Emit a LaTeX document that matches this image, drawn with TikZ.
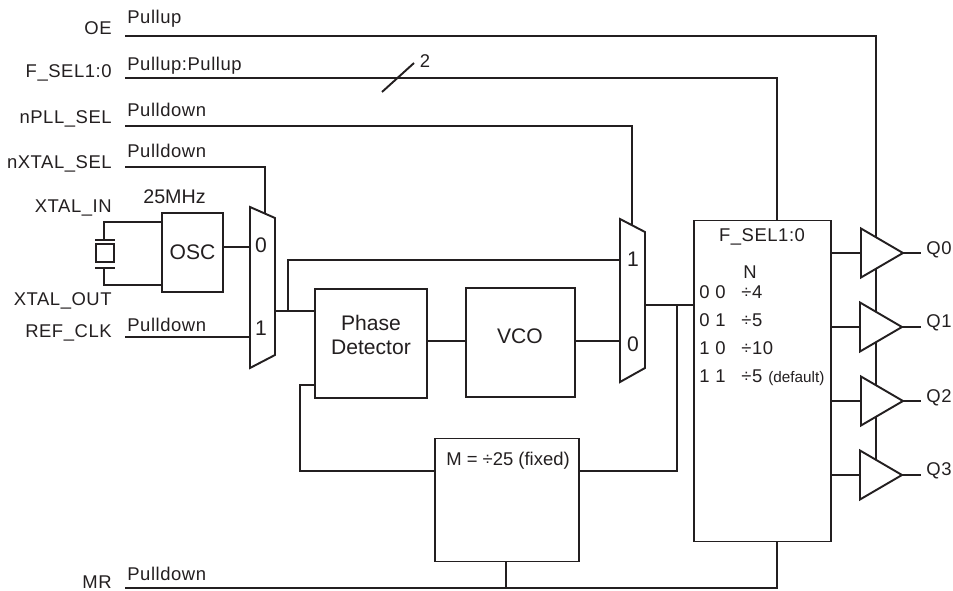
\documentclass[tikz,border=0pt]{standalone}
\usepackage{fontspec}
\setmainfont{Liberation Sans}
\newfontfamily\sigfont[LetterSpace=3]{Liberation Sans}
\usepackage{tikz}
\usetikzlibrary{shapes.geometric}
\definecolor{inkc}{HTML}{231F20}
\tikzset{
  wire/.style={draw=inkc, line width=1.1pt},
  block/.style={draw=inkc, line width=1.1pt, rectangle, fill=white},
  buf/.style={draw=inkc, line width=1.1pt, fill=white, isosceles triangle, isosceles triangle stretches, minimum width=0.98cm, minimum height=0.84cm, outer sep=0pt, anchor=lower side},
  sig/.style={text=inkc, font=\fontsize{10.5}{12}\sigfont},
  big/.style={text=inkc, font=\fontsize{12}{14}\selectfont},
  small/.style={text=inkc, font=\fontsize{8.7}{10}\selectfont}
}

\begin{document}
\begin{tikzpicture}[x=0.02cm, y=0.02cm]
\tikzstyle{every node}+=[inner sep=0pt]
\useasboundingbox (0,0) rectangle (953,-591);
% pin names
\node (oename) [sig, anchor=base east] at (112,-35) {OE};
\node (fselname) [sig, anchor=base east] at (112,-78) {F\_SEL1:0};
\node (npllname) [sig, anchor=base east] at (112,-124) {nPLL\_SEL};
\node (nxtalname) [sig, anchor=base east] at (112,-169) {nXTAL\_SEL};
\node (xinname) [sig, anchor=base east] at (112,-213) {XTAL\_IN};
\node (xoutname) [sig, anchor=base east] at (112,-305) {XTAL\_OUT};
\node (refname) [sig, anchor=base east] at (112,-337) {REF\_CLK};
\node (mrname) [sig, anchor=base east] at (112,-588.5) {MR};
\node (oepull) [sig, anchor=base west] at (127,-24) {Pullup};
\node (fselpull) [sig, anchor=base west] at (127,-71) {Pullup:Pullup};
\node (npllpull) [sig, anchor=base west] at (127,-117) {Pulldown};
\node (nxtalpull) [sig, anchor=base west] at (127,-158) {Pulldown};
\node (refpull) [sig, anchor=base west] at (127,-331) {Pulldown};
\node (mrpull) [sig, anchor=base west] at (127,-580) {Pulldown};
% free ends of the input lines
\coordinate (oestart) at (125,-36);
\coordinate (fselstart) at (125,-78);
\coordinate (npllstart) at (125,-126);
\coordinate (nxtalstart) at (125,-167);
\coordinate (refstart) at (125,-337);
\coordinate (mrstart) at (125,-588);
% blocks
\node (osc) [block, big, minimum width=1.22cm, minimum height=1.58cm] at (192.5,-252.5) {OSC};
\node (pd) [block, minimum width=2.24cm, minimum height=2.18cm] at (371,-343.5) {};
\node (vco) [block, minimum width=2.18cm, minimum height=2.18cm] at (520.5,-342.5) {};
\node (mdiv) [block, minimum width=2.88cm, minimum height=2.46cm] at (507,-500) {};
\node (ndiv) [block, minimum width=2.74cm, minimum height=6.42cm] at (762.5,-381) {};
\node (pdname) [big, align=center] at (371,-335) {Phase\\Detector};
\node (vconame) [big] at (520,-336) {VCO};
\node (mname) [sig, font=\fontsize{10.5}{12}\selectfont] at (508,-461) {M = ÷25 (fixed)};
\node (osclabel) [sig, font=\fontsize{11.2}{13}\selectfont, anchor=base] at (174.5,-204) {25MHz};
% divider table
\node (fseltitle) [sig] at (762,-237) {F\_SEL1:0};
\node (nhead) [sig] at (750,-272) {N};
\node (rowa) [sig, anchor=base west] at (699,-298) {0 0};
\node (rowb) [sig, anchor=base west] at (699,-326) {0 1};
\node (rowc) [sig, anchor=base west] at (699,-354) {1 0};
\node (rowd) [sig, anchor=base west] at (699,-382) {1 1};
\node (vala) [sig, anchor=base west] at (741,-298) {÷4};
\node (valb) [sig, anchor=base west] at (741,-326) {÷5};
\node (valc) [sig, anchor=base west] at (741,-354) {÷10};
\node (vald) [sig, anchor=base west] at (741,-382) {÷5};
\node (dflt) [small, anchor=base west] at (768,-382) {(default)};
% crystal
\node (xtal) [block, minimum width=0.36cm, minimum height=0.36cm] at (105,-253) {};
\coordinate (plateal) at (95,-240);
\coordinate (platear) at (115,-240);
\coordinate (platebl) at (95,-268);
\coordinate (platebr) at (115,-268);
\coordinate (platea) at (104,-240);
\coordinate (plateb) at (104,-268);
\coordinate (oscina) at (162,-222);
\coordinate (oscinb) at (162,-285);
\draw [wire] (plateal) -- (platear);
\draw [wire] (platebl) -- (platebr);
\draw [wire] (platea) |- (oscina);
\draw [wire] (plateb) |- (oscinb);
% first mux
\coordinate (mxatl) at (250,-207);
\coordinate (mxatr) at (275,-218);
\coordinate (mxabr) at (275,-355);
\coordinate (mxabl) at (250,-368);
\coordinate (mxatop) at (265,-214);
\coordinate (mxaout) at (275,-311);
\coordinate (mxaina) at (250,-247);
\coordinate (mxainb) at (250,-337);
\draw [wire, line join=miter] (mxatl) -- (mxatr) -- (mxabr) -- (mxabl) -- cycle;
\node (mxaa) [big] at (261,-245) {0};
\node (mxab) [big] at (261,-328) {1};
% second mux
\coordinate (mxbtl) at (620,-219);
\coordinate (mxbtr) at (645,-232);
\coordinate (mxbbr) at (645,-368);
\coordinate (mxbbl) at (620,-382);
\coordinate (mxbtop) at (632,-225);
\coordinate (mxbout) at (645,-305);
\coordinate (mxbina) at (620,-260);
\coordinate (mxbinb) at (620,-341);
\draw [wire, line join=miter] (mxbtl) -- (mxbtr) -- (mxbbr) -- (mxbbl) -- cycle;
\node (mxba) [big] at (633,-259) {1};
\node (mxbb) [big] at (633,-344) {0};
% junctions and bends
\coordinate (xjoin) at (288,-311);
\coordinate (fbjoin) at (677,-305);
\coordinate (pdfb) at (300,-385);
\coordinate (mfb) at (677,-471);
\coordinate (mfbl) at (300,-471);
\coordinate (mrjoin) at (506,-588);
\coordinate (oeend) at (876,-462);
\coordinate (fseldrop) at (777,-78);
\coordinate (mrdrop) at (777,-588);
\coordinate (vcolink) at (446,-341);
% control lines
\draw [wire] (oestart) -| (oeend);
\draw [wire] (fselstart) -| (fseldrop |- ndiv.north);
\draw [wire] (npllstart) -| (mxbtop);
\draw [wire] (nxtalstart) -| (mxatop);
\draw [wire] (refstart) -- (mxainb);
\draw [wire] (mrstart) -| (mrdrop |- ndiv.south);
\draw [wire] (mrjoin) -- (mrjoin |- mdiv.south);
% bus tick
\coordinate (ticka) at (382,-92);
\coordinate (tickb) at (414,-63);
\draw [wire] (ticka) -- (tickb);
\node (ticklabel) [sig] at (425,-61) {2};
% signal path
\draw [wire] (osc.east |- mxaina) -- (mxaina);
\draw [wire] (mxaout) -- (mxaout -| pd.west);
\draw [wire] (xjoin) |- (mxbina);
\draw [wire] (pd.east |- vcolink) -- (vco.west |- vcolink);
\draw [wire] (vco.east |- mxbinb) -- (mxbinb);
\draw [wire] (mxbout) -- (mxbout -| ndiv.west);
\draw [wire] (fbjoin) |- (mdiv.east |- mfb);
\draw [wire] (pd.west |- pdfb) -- (pdfb) |- (mdiv.west |- mfbl);
% output buffers
\node (bufa) [buf] at (861,-253) {};
\node (bufb) [buf] at (860,-327) {};
\node (bufc) [buf] at (861,-401) {};
\node (bufd) [buf] at (860,-475) {};
\node (qa) [sig, anchor=east] at (952,-250) {Q0};
\node (qb) [sig, anchor=east] at (952,-323) {Q1};
\node (qc) [sig, anchor=east] at (952,-398) {Q2};
\node (qd) [sig, anchor=east] at (952,-471) {Q3};
\coordinate (qaend) at (921,-253);
\coordinate (qbend) at (921,-327);
\coordinate (qcend) at (921,-401);
\coordinate (qdend) at (921,-475);
\draw [wire] (ndiv.east |- bufa.lower side) -- (bufa.lower side);
\draw [wire] (ndiv.east |- bufb.lower side) -- (bufb.lower side);
\draw [wire] (ndiv.east |- bufc.lower side) -- (bufc.lower side);
\draw [wire] (ndiv.east |- bufd.lower side) -- (bufd.lower side);
\draw [wire] (bufa.apex) -- (qaend);
\draw [wire] (bufb.apex) -- (qbend);
\draw [wire] (bufc.apex) -- (qcend);
\draw [wire] (bufd.apex) -- (qdend);
\end{tikzpicture}
\end{document}
